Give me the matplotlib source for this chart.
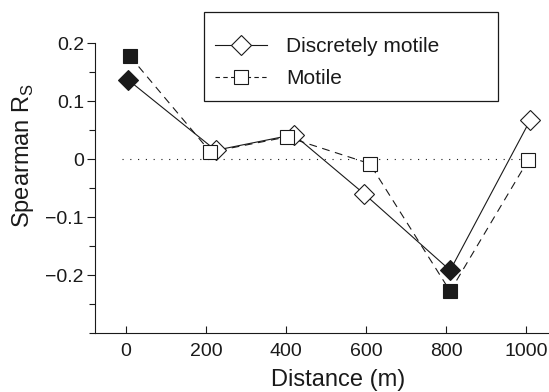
import matplotlib
matplotlib.use("Agg")
import matplotlib.pyplot as plt
from matplotlib.lines import Line2D
from matplotlib.patches import Rectangle

plt.rcParams['font.family'] = ['Liberation Sans', 'DejaVu Sans']
plt.rcParams['mathtext.fontset'] = 'custom'
plt.rcParams['mathtext.rm'] = 'Liberation Sans'

# データ
disc_x = [6, 224, 419, 595, 810, 1010]
disc_y = [0.136, 0.015, 0.042, -0.060, -0.192, 0.067]
mot_x = [10, 211, 402, 609, 810, 1005]
mot_y = [0.177, 0.012, 0.038, -0.008, -0.228, -0.002]
signif = [True, False, False, False, True, False]

xticks = [0, 200, 400, 600, 800, 1000]
yticks = [-0.2, -0.1, 0, 0.1, 0.2]
ytick_labels = ['\u22120.2', '\u22120.1', '0', '0.1', '0.2']
yminor = [-0.3, -0.25, -0.15, -0.05, 0.05, 0.15]

ink = '#1a1a1a'
W, H = 549, 392

fig = plt.figure(figsize=(5.49, 3.92), dpi=100)
ax = fig.add_axes([95 / W, 1 - 333 / H, 1 - 95 / W, 290 / H])

# ゼロの点線
ax.plot([-10, 1030], [0, 0], color=ink, lw=0.8, linestyle=(0, (1, 6)), zorder=1)

ax.plot(disc_x, disc_y, color=ink, lw=0.8, zorder=2)
ax.plot(mot_x, mot_y, color=ink, lw=0.8, linestyle=(0, (7, 5)), zorder=3)

for x, y, s in zip(disc_x, disc_y, signif):
    ax.plot(x, y, marker='D', ms=9.8, mec=ink, mew=0.8,
            mfc=ink if s else 'white', zorder=4)
for x, y, s in zip(mot_x, mot_y, signif):
    ax.plot(x, y, marker='s', ms=10.5, mec=ink, mew=0.8,
            mfc=ink if s else 'white', zorder=5)

ax.set_xlim(-77.5, 1057)
ax.set_ylim(-0.3, 0.2)

ax.spines['top'].set_visible(False)
ax.spines['right'].set_visible(False)
for sp in ['left', 'bottom']:
    ax.spines[sp].set_linewidth(0.8)
    ax.spines[sp].set_color(ink)

ax.set_xticks(xticks)
ax.set_xticklabels([str(v) for v in xticks])
ax.set_yticks(yticks)
ax.set_yticklabels(ytick_labels)
ax.set_yticks(yminor, minor=True)
ax.tick_params(axis='x', direction='in', length=5, width=0.8, pad=7,
               labelsize=14, colors=ink)
ax.tick_params(axis='y', which='major', direction='out', length=6, width=0.8,
               pad=2, labelsize=14, colors=ink)
ax.tick_params(axis='y', which='minor', direction='out', length=4, width=0.8,
               colors=ink)

ax.set_xlabel('Distance (m)', fontsize=17, color=ink)
ax.xaxis.set_label_coords(0.535, -0.125)
ax.set_ylabel(r'Spearman R$_{\mathrm{S}}$', fontsize=17, color=ink)
ax.yaxis.set_label_coords(-0.13, 0.614)

# 凡例 (枠は手で描く)
fig.patches.append(Rectangle((204 / W, 1 - 101 / H), 294 / W, 89 / H,
                             transform=fig.transFigure, fill=False,
                             edgecolor=ink, linewidth=0.9))
h1 = Line2D([], [], color=ink, lw=0.8, marker='D', ms=9.8, mfc='white',
            mec=ink, mew=0.8)
h2 = Line2D([], [], color=ink, lw=0.8, linestyle=(0, (4, 3)), marker='s',
            ms=10.5, mfc='white', mec=ink, mew=0.8)
leg = ax.legend([h1, h2], ['Discretely motile', 'Motile'],
                loc='upper left',
                bbox_to_anchor=(215 / W, 1 - 37 / H),
                bbox_transform=fig.transFigure,
                fontsize=15, frameon=False,
                handlelength=2.5, handletextpad=0.9, labelspacing=0.62,
                borderpad=0, borderaxespad=0)
for t in leg.get_texts():
    t.set_color(ink)

fig.savefig('out.png', dpi=100)
